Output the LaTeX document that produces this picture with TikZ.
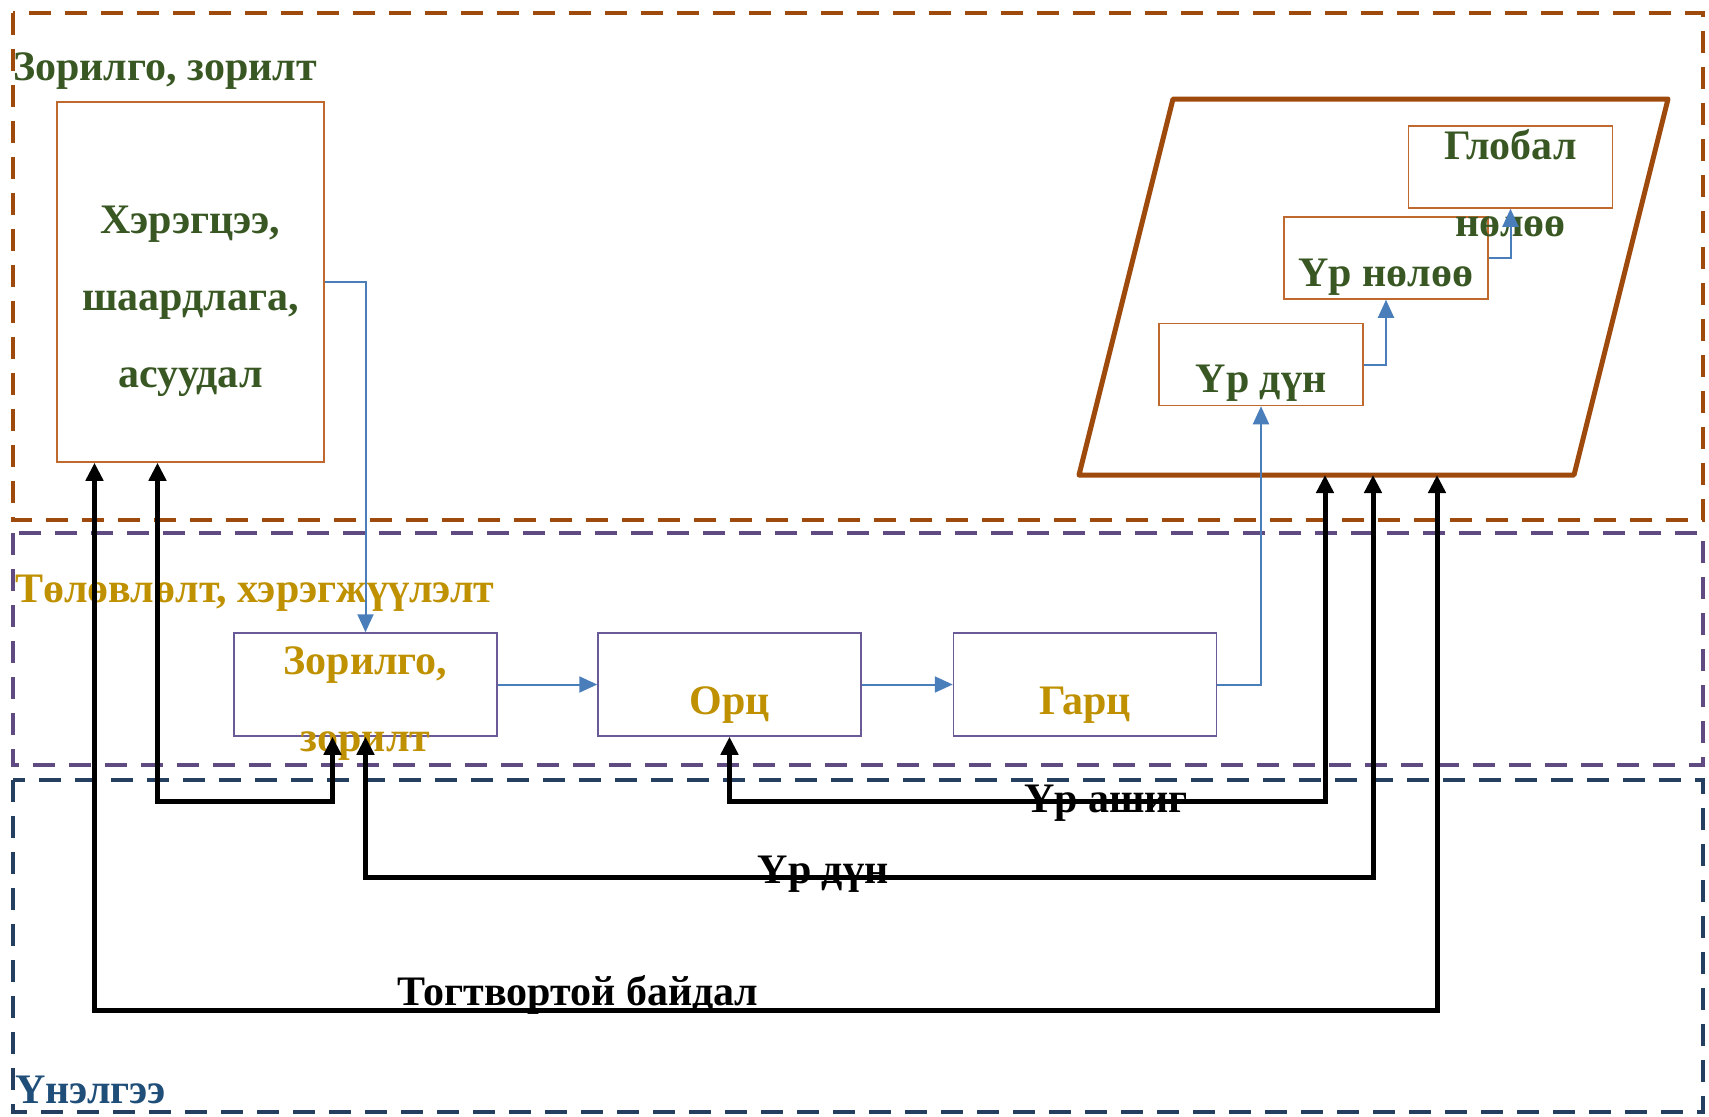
\documentclass[tikz,border=0pt]{standalone}
\usepackage{fontspec}
\setmainfont{Liberation Serif}
\usetikzlibrary{arrows.meta}

\definecolor{zoneA}{HTML}{9E4A0C}
\definecolor{zoneB}{HTML}{5F4B82}
\definecolor{zoneC}{HTML}{243F60}
\definecolor{txtgreen}{HTML}{385723}
\definecolor{txtgold}{HTML}{BF9000}
\definecolor{txtnavy}{HTML}{1F4E79}
\definecolor{flowblue}{HTML}{4A7EBB}
\definecolor{boxorange}{HTML}{C0692E}
\definecolor{boxpurple}{HTML}{6A5A98}

\begin{document}
\begin{tikzpicture}[
	x=1pt, y=-1pt,
	every node/.style={font=\fontsize{42}{77}\selectfont\bfseries, inner sep=0pt},
	zone/.style={line width=4.5pt, dash pattern=on 22pt off 14pt},
	needbox/.style={draw=boxorange, line width=1.5pt, minimum width=267pt, minimum height=360pt},
	planbox/.style={draw=boxpurple, line width=1.5pt, minimum width=263pt, minimum height=103pt},
	resbox/.style={draw=boxorange, line width=1.5pt, minimum width=204pt, minimum height=82pt},
	green/.style={text=txtgreen, align=center},
	gold/.style={text=txtgold, align=center},
	flow/.style={draw=flowblue, line width=2pt, -{Triangle[length=18pt,width=16pt]}},
	eval/.style={line width=5pt, {Triangle[length=18pt,width=17pt]}-{Triangle[length=18pt,width=17pt]}}
]
\useasboundingbox (0,0) rectangle (1709,1117);

% three zones
\draw[zone, draw=zoneA] (13,13) rectangle (1703,520);
\draw[zone, draw=zoneB] (13,533) rectangle (1703,765);
\draw[zone, draw=zoneC] (13,780) rectangle (1703,1112);
\node[green, anchor=base west] (zgoal) at (13,80) {Зорилго, зорилт};
\node[gold, anchor=base west] (zplan) at (15,602) {Төлөвлөлт, хэрэгжүүлэлт};
\node[text=txtnavy, anchor=base west] (zeval) at (15,1103) {Үнэлгээ};

% boxes
\node[needbox] (need) at (190.5,282) {};
\node[green] (needtext) at (190.5,301) {Хэрэгцээ,\\шаардлага,\\асуудал};
\node[planbox] (goal) at (365.5,684.5) {};
\node[gold] (goaltext) at (365.5,704) {Зорилго,\\зорилт};
\node[planbox] (orc) at (729.5,684.5) {};
\node[gold, anchor=base] (orctext) at (729.5,714) {Орц};
\node[planbox] (garts) at (1085,684.5) {};
\node[gold, anchor=base] (gartstext) at (1085,714) {Гарц};

% impact field
\draw[draw=zoneA, line width=5pt, line join=round] (1079,475) -- (1574,475) -- (1668,99) -- (1173,99) -- cycle;
\node[resbox] (result) at (1261,364.5) {};
\node[green, anchor=base] (resulttext) at (1261,392) {Үр дүн};
\node[resbox] (outcome) at (1386,258) {};
\node[green, anchor=base] (outcometext) at (1386,286) {Үр нөлөө};
\node[resbox] (global) at (1510.5,167) {};
\node[green] (globaltext) at (1510.5,183) {Глобал\\нөлөө};
\coordinate (in1) at (1325,475);
\coordinate (in2) at (1373,475);
\coordinate (in3) at (1437,475);

% flow
\draw[flow] (need.east) -| (goal.north);
\draw[flow] (goal.east) -- (orc.west);
\draw[flow] (orc.east) -- (garts.west);
\draw[flow] (garts.east) -| (result.south);
\draw[flow] (result.east) -| (outcome.south);
\draw[flow] (outcome.east) -| (global.south);

% evaluation loops
\draw[eval] (orc.south) -- ++(0,65) -| (in1);
\draw[eval] (goal.south) -- ++(0,141) -| (in2);
\draw[eval] ([xshift=-96pt]need.south) -- (94.5,1010) -| (in3);
\draw[eval] ([xshift=-33pt]need.south) -- (157.5,801) -| ([xshift=-33pt]goal.south);
\node[anchor=base] (ashig) at (1106,812) {Үр ашиг};
\node[anchor=base] (dun) at (823,883) {Үр дүн};
\node[anchor=base] (togt) at (578,1005) {Тогтвортой байдал};
\end{tikzpicture}
\end{document}
